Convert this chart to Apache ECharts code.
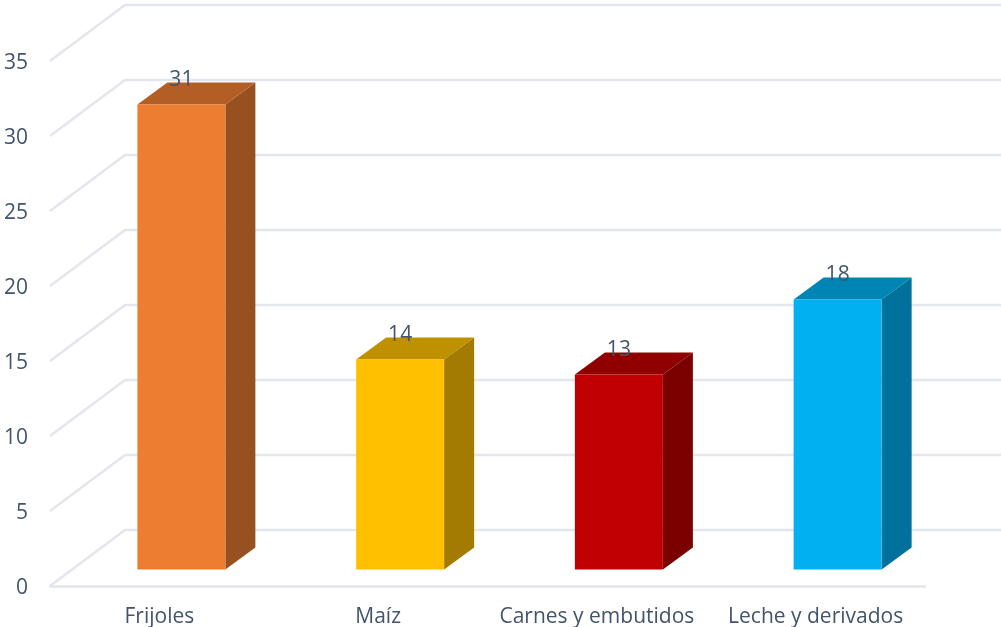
<!DOCTYPE html>
<html>
<head>
<meta charset="utf-8">
<style>html,body{margin:0;padding:0;background:#fff}#c{width:1001px;height:627px}</style>
<script src="https://cdn.jsdelivr.net/npm/echarts@6/dist/echarts.min.js"></script>
</head>
<body>
<div id="c"></div>
<script>
const categories = ['Frijoles', 'Maíz', 'Carnes y embutidos', 'Leche y derivados'];
const values = [31, 14, 13, 18];
const frontColors = ['#ED7D31', '#FFC000', '#C00000', '#00B0F0'];
const topColors = ['#B25E25', '#BF9000', '#900000', '#0084B4'];
const sideColors = ['#97501F', '#A37B00', '#7B0000', '#00719A'];
const yTicks = [0, 5, 10, 15, 20, 25, 30, 35];

const textColor = '#44546A';
const gridColor = '#E3E6ED';
const wallDX = 75, wallDY = -56;          // perspective offset of the back wall
const depthDX = 30, depthDY = -22;        // bar depth
const barDX = 22, barDY = -16.5;          // bar plane shift from the axis plane
const barWidth = 88;
const rightEdge = 1001;

const chart = echarts.init(document.getElementById('c'), null, {renderer: 'canvas'});

function renderWall(params, api) {
  const p = api.coord([0, api.value(0)]);
  const x0 = params.coordSys.x;
  const y = p[1];
  return {
    type: 'polyline',
    silent: true,
    shape: {points: [[x0, y], [x0 + wallDX, y + wallDY], [rightEdge, y + wallDY]]},
    style: {stroke: gridColor, lineWidth: 2.5, fill: null}
  };
}

function renderBar(params, api) {
  const i = api.value(0);
  const top = api.coord([i, api.value(1)]);
  const base = api.coord([i, 0]);
  const l = top[0] + barDX - barWidth / 2;
  const r = l + barWidth;
  const t = top[1] + barDY;
  const b = base[1] + barDY;
  return {
    type: 'group',
    children: [
      {type: 'polygon', shape: {points: [[r, t], [r + depthDX, t + depthDY], [r + depthDX, b + depthDY], [r, b]]},
        style: {fill: sideColors[i]}},
      {type: 'polygon', shape: {points: [[l, t], [l + depthDX, t + depthDY], [r + depthDX, t + depthDY], [r, t]]},
        style: {fill: topColors[i]}},
      {type: 'rect', shape: {x: l, y: t, width: barWidth, height: b - t},
        style: {fill: frontColors[i]}},
      {type: 'text', z2: 10, style: {
        text: String(api.value(1)), x: l + barWidth / 2, y: t - 24,
        align: 'center', verticalAlign: 'middle',
        fill: textColor, font: '21px "Open Sans"'
      }}
    ]
  };
}

chart.setOption({
  animation: false,
  backgroundColor: '#fff',
  grid: {left: 50, right: 76, top: 61, bottom: 41, outerBoundsMode: 'none'},
  xAxis: {
    type: 'category',
    data: categories,
    axisTick: {show: false},
    axisLine: {lineStyle: {color: gridColor, width: 2.5}},
    axisLabel: {color: textColor, fontFamily: 'Open Sans', fontSize: 21, margin: 21, interval: 0, hideOverlap: false}
  },
  yAxis: {
    type: 'value',
    min: 0, max: 35, interval: 5,
    splitLine: {show: false},
    axisLine: {show: false},
    axisTick: {show: false},
    axisLabel: {
      margin: 22,
      formatter: '{t|{value}}',
      rich: {t: {color: textColor, fontFamily: 'Open Sans', fontSize: 21, padding: [5, 0, 0, 0]}}
    }
  },
  series: [
    {type: 'custom', clip: false, z: 1, data: yTicks.map(v => [v]), encode: {y: 0}, renderItem: renderWall, silent: true},
    {type: 'custom', clip: false, z: 2, data: values.map((v, i) => [i, v]), encode: {x: 0, y: 1}, renderItem: renderBar, silent: true}
  ]
});
</script>
</body>
</html>
